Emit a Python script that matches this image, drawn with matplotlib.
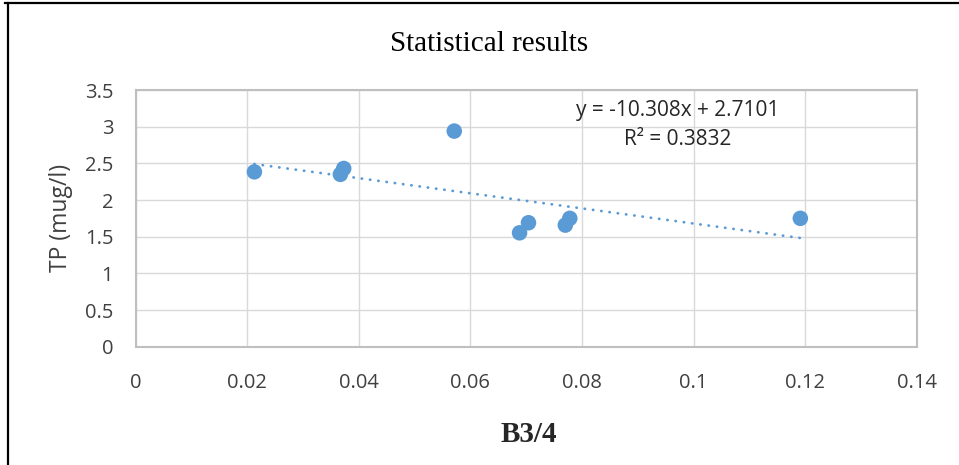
import matplotlib
matplotlib.use("Agg")
import matplotlib.pyplot as plt
from matplotlib.lines import Line2D
import numpy as np

# ---- data ----
b34 = [0.0213, 0.0373, 0.0367, 0.0571, 0.0704, 0.0688, 0.0778, 0.0770, 0.1191]
tp = [2.384, 2.43, 2.35, 2.94, 1.69, 1.553, 1.75, 1.658, 1.75]
slope = -10.308
intercept = 2.7101
eq_text = "y = -10.308x + 2.7101"
r2_text = "R² = 0.3832"
x_ticks = [0, 0.02, 0.04, 0.06, 0.08, 0.1, 0.12, 0.14]
x_ticklabels = ["0", "0.02", "0.04", "0.06", "0.08", "0.1", "0.12", "0.14"]
y_ticks = [0, 0.5, 1, 1.5, 2, 2.5, 3, 3.5]
y_ticklabels = ["0", "0.5", "1", "1.5", "2", "2.5", "3", "3.5"]
title = "Statistical results"
xlabel = "B3/4"
ylabel = "TP (mug/l)"

W, H = 959, 465
fig = plt.figure(figsize=(W / 100, H / 100), dpi=100)
fig.patch.set_facecolor("white")

L, R, T, B = 135.5, 917, 90, 346.7
ax = fig.add_axes([L / W, 1 - B / H, (R - L) / W, (B - T) / H])

blue = "#5B9BD5"
sans = ["Open Sans", "DejaVu Sans"]
serif = ["Liberation Serif", "DejaVu Serif"]

ax.set_xlim(0, 0.14)
ax.set_ylim(0, 3.5)
ax.set_xticks(x_ticks)
ax.set_xticklabels(x_ticklabels, family=sans, fontsize=14.5, color="#404040")
ax.set_yticks(y_ticks)
ax.set_yticklabels(y_ticklabels, family=sans, fontsize=14.5, color="#404040")
ax.tick_params(axis="both", length=0)
ax.tick_params(axis="x", pad=19)
ax.tick_params(axis="y", pad=16)

ax.grid(True, color="#D9D9D9", linewidth=1.0, zorder=0)
ax.set_axisbelow(True)
for s in ax.spines.values():
    s.set_color("#BFBFBF")
    s.set_linewidth(1.5)

# trendline
xs = np.array([min(b34), max(b34)])
ax.plot(xs, slope * xs + intercept, color=blue, linewidth=2.0,
        linestyle=(0, (0.1, 2.9)), dash_capstyle="round", zorder=2)

ax.scatter(b34, tp, s=125, color=blue, edgecolors="none", zorder=3)

ax.text(0.0971, 3.225, eq_text, ha="center", va="center",
        family=sans, fontsize=15, color="#262626")
ax.text(0.0971, 2.83, r2_text, ha="center", va="center",
        family=sans, fontsize=15, color="#262626")

fig.text(489 / W, 1 - 44 / H, title, ha="center", va="center",
         family=serif, fontsize=21, color="black")
fig.text(529 / W, 1 - 435 / H, xlabel, ha="center", va="center",
         family=serif, fontsize=21, fontweight="bold", color="#262626")
fig.text(61 / W, 1 - 218 / H, ylabel, ha="center", va="center",
         rotation=90, family=sans, fontsize=16.5, color="#404040")

# outer frame (top and left)
fig.add_artist(Line2D([5 / W, 1], [1 - 3.5 / H, 1 - 3.5 / H],
                      transform=fig.transFigure, color="black", linewidth=1.6))
fig.add_artist(Line2D([8 / W, 8 / W], [0, 1 - 3.5 / H],
                      transform=fig.transFigure, color="black", linewidth=1.6))

fig.savefig("out.png", dpi=100)
